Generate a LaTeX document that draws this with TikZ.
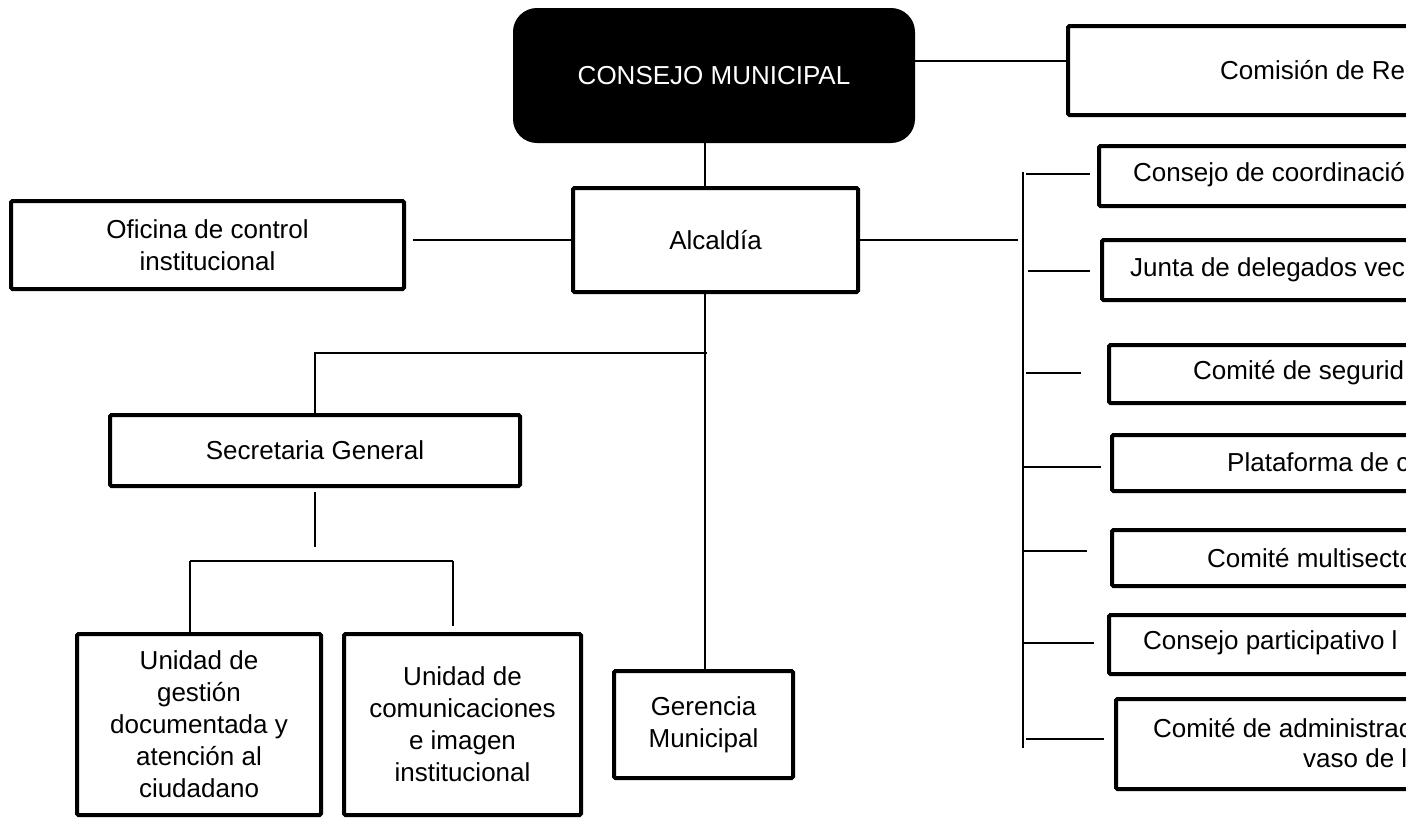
\documentclass[tikz,border=0pt]{standalone}
\usepackage{fontspec}
\setmainfont{Liberation Sans}
\usetikzlibrary{calc}
\begin{document}
\begin{tikzpicture}[x=1pt,y=-1pt,
  every node/.style={font=\fontsize{26}{32}\selectfont},
  box/.style={draw=black, line width=4pt, rounded corners=1.5pt, inner sep=0pt, align=center, fill=white},
  conn/.style={line width=1.5pt},
  lbl/.style={anchor=west, inner sep=0pt}]
\useasboundingbox (0,0) rectangle (1406,819);
\clip (0,0) rectangle (1406,819);
\fill[white] (0,0) rectangle (1406,819);

% main column
\node[box, fill=black, rounded corners=22pt, text=white, minimum width=398pt, minimum height=131pt] (cm) at (714,75.5) {CONSEJO MUNICIPAL};
\node[box, minimum width=285pt, minimum height=104pt] (al) at (715.5,240) {Alcald\'ia};
\node[box, minimum width=393pt, minimum height=88pt] (of) at (207.5,245) {Oficina de control\\institucional};
\node[box, minimum width=410pt, minimum height=71pt] (sg) at (315,450.5) {Secretaria General};
\node[box, minimum width=244pt, minimum height=181pt] (u1) at (199,724.5) {Unidad de\\gesti\'on\\documentada y\\atenci\'on al\\ciudadano};
\node[box, minimum width=237pt, minimum height=181pt] (u2) at (462.5,724.5) {Unidad de\\comunicaciones\\e imagen\\institucional};
\node[box, minimum width=179pt, minimum height=107pt] (ge) at (703.5,724.5) {Gerencia\\Municipal};

% right column boxes (cut by the picture's right edge)
\node[box, minimum width=632pt, minimum height=89pt] (com) at (1384,70.5) {};
\node[box, minimum width=601pt, minimum height=60pt] (c1) at (1399.5,176) {};
\node[box, minimum width=598pt, minimum height=60pt] (c2) at (1401,270) {};
\node[box, minimum width=591pt, minimum height=58pt] (c3) at (1404.5,374) {};
\node[box, minimum width=588pt, minimum height=56pt] (c4) at (1406,463) {};
\node[box, minimum width=588pt, minimum height=56pt] (c5) at (1406,558) {};
\node[box, minimum width=591pt, minimum height=59pt] (c6) at (1404.5,644.5) {};
\node[box, minimum width=584pt, minimum height=90pt] (c7) at (1408,744) {};

\node[lbl] (t0) at (1220,70) {Comisi\'on de Re};
\node[lbl] (t1) at (1133,175) {Consejo de coordinaci\'o};
\node[lbl] (t2) at (1130,270) {Junta de delegados vec};
\node[lbl] (t3) at (1193,373) {Comit\'e de segurid};
\node[lbl] (t4) at (1227,462) {Plataforma de c};
\node[lbl] (t5) at (1207,558) {Comit\'e multisecto};
\node[lbl] (t6) at (1143,643) {Consejo participativo l};
\node[lbl] (t7a) at (1153,728) {Comit\'e de administrac};
\node[lbl] (t7b) at (1303,758) {vaso de l};

% helper coordinates
\coordinate (spine) at (705,0);
\coordinate (busl) at (1018,0);
\coordinate (ofg) at (413,0);
\coordinate (bustop) at (1023,172);
\coordinate (busbot) at (1023,748);
\coordinate (cmr) at ([yshift=14.5pt]cm.east);
\coordinate (j1) at (707,353);
\coordinate (h1) at (190,561);
\coordinate (h2) at (453,561);

% connectors
\draw[conn] (cm.south -| spine) -- (al.north -| spine);
\draw[conn] (al.south -| spine) -- (ge.north -| spine);
\draw[conn] (cmr) -- (cmr -| com.west);
\draw[conn] (al.east) -- (al.east -| busl);
\draw[conn] (al.west) -- (al.west -| ofg);
\draw[conn] (bustop) -- (busbot);
\draw[conn] ([xshift=-7pt,yshift=2pt]c1.west) -- +(-64,0);
\draw[conn] ([xshift=-10pt,yshift=-1pt]c2.west) -- +(-62,0);
\draw[conn] ([xshift=-26pt,yshift=1pt]c3.west) -- +(-55,0);
\draw[conn] ([xshift=-9pt,yshift=-4pt]c4.west) -- +(-77,0);
\draw[conn] ([xshift=-23pt,yshift=7pt]c5.west) -- +(-63,0);
\draw[conn] ([xshift=-13pt,yshift=1.5pt]c6.west) -- +(-70,0);
\draw[conn] ([xshift=-10pt,yshift=5pt]c7.west) -- +(-78,0);
\draw[conn] (sg.north) |- (j1);
\draw[conn] ([yshift=-4pt]sg.south) -- +(0,55);
\draw[conn] (h1) -- (h2);
\draw[conn] (h1) -- (h1 |- u1.north);
\draw[conn] (h2) -- +(0,65);
\end{tikzpicture}
\end{document}
